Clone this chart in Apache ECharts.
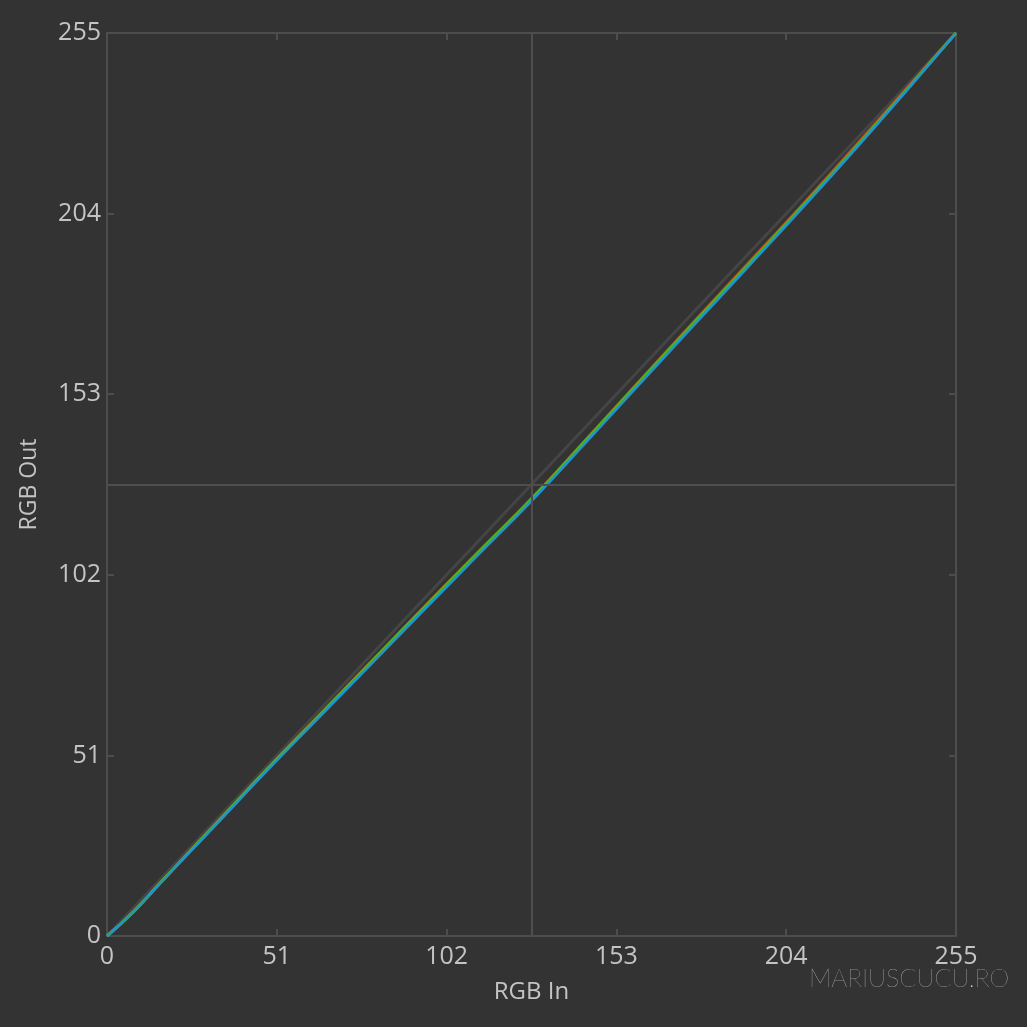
<!DOCTYPE html>
<html><head><meta charset="utf-8">
<script src="https://cdn.jsdelivr.net/npm/echarts@6/dist/echarts.min.js"></script>
<style>html,body{margin:0;padding:0;background:#333333;}#c{width:1027px;height:1027px;}</style>
</head><body><div id="c"></div>
<script>
const inputs = [0, 8, 16, 24, 32, 48, 64, 80, 96, 112, 128, 144, 160, 176, 192, 208, 224, 240, 255];
const redOut = [0, 7.0, 15.0, 23.0, 31.0, 47.0, 62.6, 78.1, 93.6, 108.9, 124.0, 140.3, 156.8, 173.2, 189.4, 205.6, 222.3, 239.2, 255];
const greenOut = [0, 6.9, 15.0, 23.0, 31.0, 47.0, 62.5, 78.0, 93.5, 108.8, 123.9, 140.2, 156.6, 172.9, 189.0, 205.2, 221.8, 238.8, 255];
const blueOut = [0, 6.9, 14.9, 22.8, 30.7, 46.6, 62.0, 77.4, 92.8, 108.1, 123.3, 139.5, 155.9, 172.2, 188.4, 204.7, 221.4, 238.5, 255];
const ticks = [0, 51, 102, 153, 204, 255];
const diagonal = [[0, 0], [255, 255]];

const pairs = arr => inputs.map((x, i) => [x, arr[i]]);
const font = '"Open Sans", "Noto Sans", sans-serif';
const axisCol = '#4d4d4d';
const labelCol = '#c4c4c4';

function mkAxis(pos, extra) {
  return Object.assign({
    type: 'value', min: 0, max: 255, interval: 51, position: pos,
    splitLine: { show: false },
    axisLine: { show: true, onZero: false, lineStyle: { color: axisCol, width: 2 } },
    axisTick: { show: true, inside: true, length: 7, lineStyle: { color: axisCol, width: 2 } },
    axisLabel: { show: false }
  }, extra || {});
}

const chart = echarts.init(document.getElementById('c'));
chart.setOption({
  backgroundColor: '#333333',
  animation: false,
  grid: { left: 107, right: 71, top: 33, bottom: 91 },
  xAxis: [
    mkAxis('bottom', {
      name: 'RGB In', nameLocation: 'middle', nameGap: 44,
      nameTextStyle: { color: labelCol, fontSize: 24, fontFamily: font },
      axisLabel: { show: true, inside: false, color: labelCol, fontSize: 25, fontFamily: font, margin: 8,
        formatter: v => ticks.includes(v) ? String(v) : '' }
    }),
    mkAxis('top')
  ],
  yAxis: [
    mkAxis('left', {
      name: 'RGB Out', nameLocation: 'middle', nameGap: 66,
      nameTextStyle: { color: labelCol, fontSize: 23, fontFamily: font },
      axisLabel: { show: true, inside: false, color: labelCol, fontSize: 25, fontFamily: font, margin: 6,
        formatter: v => ticks.includes(v) ? String(v) : '' }
    }),
    mkAxis('right')
  ],
  graphic: [{
    type: 'text', right: 18, top: 966,
    style: { text: 'MARIUSCUCU.RO', fill: '#d0d0d0', font: '200 25px Lato, "Open Sans", sans-serif' }
  }],
  series: [
    {
      type: 'line', data: diagonal, symbol: 'none', silent: true,
      lineStyle: { color: '#454545', width: 3 },
      markLine: {
        silent: true, symbol: 'none', label: { show: false },
        lineStyle: { color: '#4e4e4e', width: 2, type: 'solid' },
        data: [{ xAxis: 127.5 }, { yAxis: 127.5 }]
      },
      z: 1
    },
    { type: 'line', name: 'R', data: pairs(redOut), smooth: true, symbol: 'none',
      lineStyle: { color: '#b8461e', width: 3 }, z: 2 },
    { type: 'line', name: 'G', data: pairs(greenOut), smooth: true, symbol: 'none',
      lineStyle: { color: '#4fb21c', width: 3 }, z: 3 },
    { type: 'line', name: 'B', data: pairs(blueOut), smooth: true, symbol: 'none',
      lineStyle: { color: '#1f94cf', width: 2.5 }, z: 4 }
  ]
});
</script></body></html>
